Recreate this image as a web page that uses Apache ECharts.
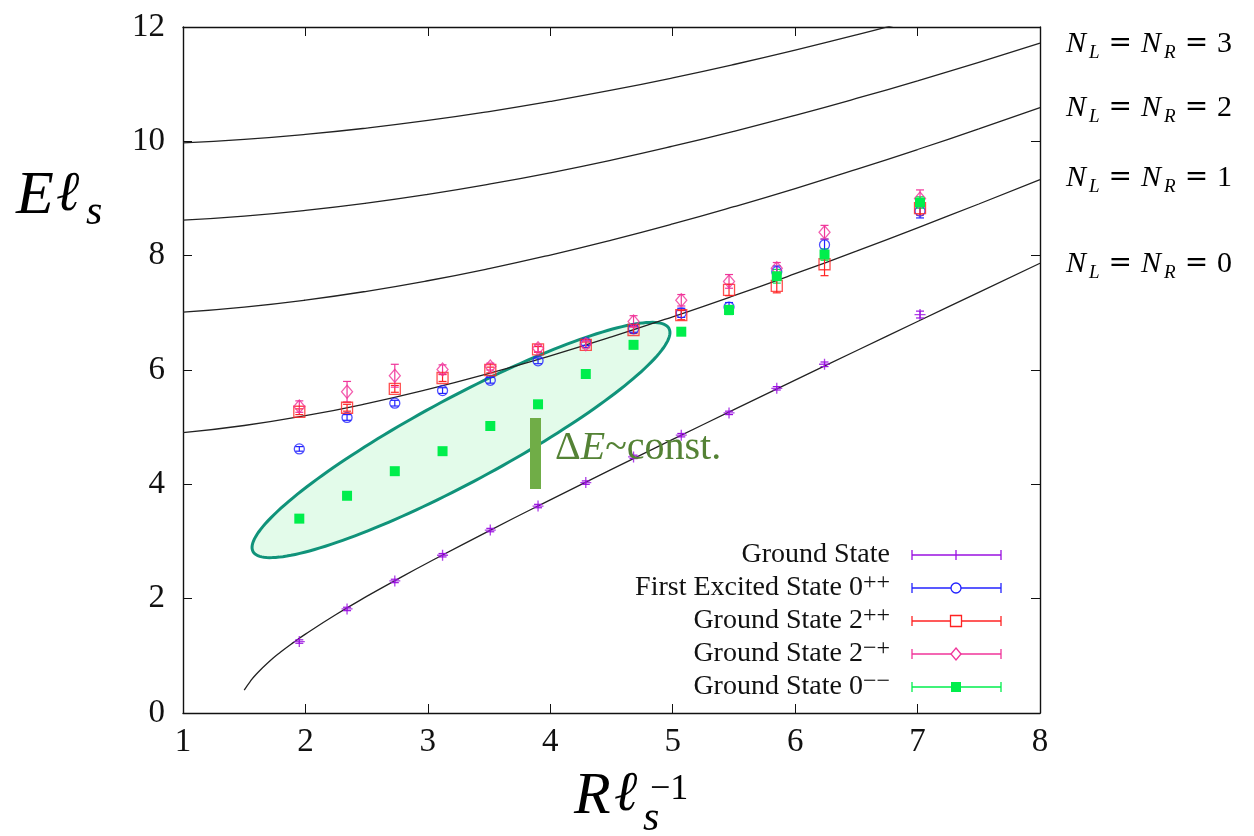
<!DOCTYPE html>
<html>
<head>
<meta charset="utf-8">
<script src="https://cdn.jsdelivr.net/npm/echarts@6/dist/echarts.min.js"></script>
<style>
html, body { margin: 0; padding: 0; background: #fff; }
#chart { width: 1254px; height: 836px; }
</style>
</head>
<body>
<div id="chart"></div>
<script>
// R / l_s values where the states were measured
const rValues = [1.95, 2.34, 2.73, 3.12, 3.51, 3.90, 4.29, 4.68, 5.07, 5.46, 5.85, 6.24, 7.02];

// measured energies (E l_s) and errors
const groundE   = [1.25, 1.82, 2.31, 2.76, 3.20, 3.62, 4.03, 4.48, 4.86, 5.25, 5.68, 6.10, 6.97];
const groundErr = [0.03, 0.03, 0.03, 0.03, 0.03, 0.03, 0.03, 0.03, 0.03, 0.03, 0.03, 0.04, 0.06];
const excE      = [4.62, 5.17, 5.42, 5.64, 5.82, 6.16, 6.48, 6.72, 7.00, 7.10, 7.72, 8.19, 8.78];
const excErr    = [0.04, 0.05, 0.05, 0.05, 0.05, 0.05, 0.05, 0.06, 0.08, 0.08, 0.10, 0.10, 0.12];
const t2ppE     = [5.27, 5.34, 5.67, 5.86, 6.00, 6.36, 6.44, 6.70, 6.96, 7.40, 7.47, 7.85, 8.83];
const t2ppErr   = [0.05, 0.06, 0.06, 0.06, 0.05, 0.05, 0.05, 0.06, 0.08, 0.10, 0.12, 0.20, 0.12];
const t2mpE     = [5.36, 5.62, 5.90, 6.01, 6.06, 6.38, 6.45, 6.85, 7.22, 7.55, 7.78, 8.41, 9.00];
const t2mpErr   = [0.10, 0.18, 0.20, 0.08, 0.06, 0.06, 0.06, 0.10, 0.10, 0.12, 0.10, 0.12, 0.15];
const t0mmE     = [3.40, 3.80, 4.23, 4.58, 5.02, 5.40, 5.93, 6.44, 6.67, 7.05, 7.64, 8.02, 8.93];
const t0mmErr   = [0.03, 0.03, 0.03, 0.03, 0.04, 0.05, 0.04, 0.05, 0.06, 0.08, 0.12, 0.10, 0.10];

// string levels
const n0X = [1.5, 1.55, 1.6, 1.7, 1.8, 1.9, 2.0, 2.25, 2.5, 2.75, 3.0, 3.5, 4.0, 4.5, 5.0, 5.5, 6.0, 6.5, 7.0, 7.5, 8.0];
const n0E = [0.40, 0.555, 0.682, 0.892, 1.070, 1.231, 1.380, 1.723, 2.039, 2.338, 2.628, 3.187, 3.729, 4.261, 4.786, 5.306, 5.823, 6.337, 6.849, 7.359, 7.868];
const curveX = [1.0, 1.5, 2.0, 2.5, 3.0, 3.5, 4.0, 4.5, 5.0, 5.5, 6.0, 6.5, 7.0, 7.5, 8.0];
const n1E = [4.903, 5.029, 5.200, 5.412, 5.660, 5.940, 6.248, 6.579, 6.931, 7.300, 7.684, 8.080, 8.488, 8.904, 9.329];
const n2E = [7.012, 7.101, 7.223, 7.377, 7.561, 7.773, 8.011, 8.272, 8.554, 8.856, 9.174, 9.509, 9.857, 10.219, 10.591];
const n3E = [8.620, 8.692, 8.792, 8.919, 9.072, 9.250, 9.450, 9.672, 9.915, 10.176, 10.455, 10.750, 11.059, 11.382, 11.718];
const n4X = [1.0, 1.5, 2.0, 2.5, 3.0, 3.5, 4.0, 4.5, 5.0, 5.5, 6.0, 6.5, 7.0];
const n4E = [9.972, 10.034, 10.121, 10.232, 10.365, 10.521, 10.698, 10.894, 11.110, 11.344, 11.595, 11.861, 12.142];

const levelLabels = ['3', '2', '1', '0'];
const legendNames = ['Ground State', 'First Excited State 0', 'Ground State 2', 'Ground State 2', 'Ground State 0'];
const legendSups  = ['', '++', '++', '\u2212+', '\u2212\u2212'];

const serif = '"Liberation Serif", "DejaVu Serif", serif';
const colors = ['#9a10e0', '#2222ff', '#ff2222', '#f0359a', '#00ee4c'];
const plusPath = 'path://M4.4,0h1.2v4.4h4.4v1.2h-4.4v4.4h-1.2v-4.4h-4.4v-1.2h4.4z';

const chart = echarts.init(document.getElementById('chart'));

function pairs(xs, ys) { return xs.map((x, i) => [x, ys[i]]); }
function bars(xs, ys, es) { return xs.map((x, i) => [x, ys[i] - es[i], ys[i] + es[i]]); }

function errorBars(data, color, z) {
    return {
        type: 'custom',
        data: data,
        encode: { x: 0, y: [1, 2] },
        z: z,
        silent: true,
        renderItem: function (params, api) {
            const lo = api.coord([api.value(0), api.value(1)]);
            const hi = api.coord([api.value(0), api.value(2)]);
            const st = { stroke: color, lineWidth: 1.2 };
            return {
                type: 'group',
                children: [
                    { type: 'line', shape: { x1: lo[0], y1: lo[1], x2: hi[0], y2: hi[1] }, style: st },
                    { type: 'line', shape: { x1: lo[0] - 4, y1: lo[1], x2: lo[0] + 4, y2: lo[1] }, style: st },
                    { type: 'line', shape: { x1: hi[0] - 4, y1: hi[1], x2: hi[0] + 4, y2: hi[1] }, style: st }
                ]
            };
        }
    };
}

function curve(xs, ys) {
    return {
        type: 'line', data: pairs(xs, ys), showSymbol: false, smooth: true,
        lineStyle: { color: '#222', width: 1.3 }, silent: true, z: 2
    };
}

const hollow = 'rgba(255,255,255,0)';
const series = [
    curve(n0X, n0E), curve(curveX, n1E), curve(curveX, n2E), curve(curveX, n3E), curve(n4X, n4E),
    errorBars(bars(rValues, t0mmE, t0mmErr), colors[4], 3),
    errorBars(bars(rValues, groundE, groundErr), colors[0], 4),
    errorBars(bars(rValues, excE, excErr), colors[1], 4),
    errorBars(bars(rValues, t2ppE, t2ppErr), colors[2], 4),
    errorBars(bars(rValues, t2mpE, t2mpErr), colors[3], 4),
    { type: 'scatter', data: pairs(rValues, groundE), symbol: plusPath, symbolSize: 11, z: 5,
      itemStyle: { color: colors[0] } },
    { type: 'scatter', data: pairs(rValues, excE), symbol: 'circle', symbolSize: 10, z: 5,
      itemStyle: { color: hollow, borderColor: colors[1], borderWidth: 1.3 } },
    { type: 'scatter', data: pairs(rValues, t2ppE), symbol: 'rect', symbolSize: 11, z: 5,
      itemStyle: { color: hollow, borderColor: colors[2], borderWidth: 1.3 } },
    { type: 'scatter', data: pairs(rValues, t2mpE), symbol: 'diamond', symbolSize: [11, 13], z: 5,
      itemStyle: { color: hollow, borderColor: colors[3], borderWidth: 1.3 } },
    { type: 'scatter', data: pairs(rValues, t0mmE), symbol: 'rect', symbolSize: 10, z: 6,
      itemStyle: { color: colors[4], borderWidth: 0, opacity: 1 } }
];

// shaded ellipse (pixel geometry of the annotation)
const ellPts = [];
(function () {
    const cx = 461, cy = 440, a = 236, b = 42.5, th = 28.2 * Math.PI / 180;
    const c = Math.cos(th), s = Math.sin(th);
    for (let k = 0; k < 180; k++) {
        const t = 2 * Math.PI * k / 180;
        const u = a * Math.cos(t), v = b * Math.sin(t);
        ellPts.push([cx + u * c + v * s, cy - u * s + v * c]);
    }
})();

function txt(x, y, text, font) {
    return { type: 'text', x: x, y: y, style: { text: text, font: font, fill: '#000', verticalAlign: 'middle' } };
}

const graphic = [
    { type: 'polygon', shape: { points: ellPts }, z: 1,
      style: { fill: '#e3fbea', stroke: '#10937a', lineWidth: 3 } },
    { type: 'rect', shape: { x: 530, y: 418, width: 11, height: 71 }, z: 7, style: { fill: '#70ad47' } },
    { type: 'text', x: 555, y: 448, z: 7, style: {
        text: '{a|\u0394}{e|E}{a|~const.}', verticalAlign: 'middle', align: 'left',
        rich: {
            a: { fontFamily: serif, fontSize: 40, fill: '#548235' },
            e: { fontFamily: serif, fontSize: 40, fontStyle: 'italic', fill: '#548235' }
        } } },
    // axis titles
    txt(16, 197, 'E', 'italic 62px ' + serif),
    txt(56, 195, '\u2113', 'italic 56px ' + serif),
    txt(86, 213, 's', 'italic 42px ' + serif),
    txt(574, 797, 'R', 'italic 60px ' + serif),
    txt(614, 795, '\u2113', 'italic 56px ' + serif),
    txt(643, 819, 's', 'italic 42px ' + serif),
    txt(650, 790, '\u22121', '36px ' + serif)
];

// N_L = N_R labels on the right
const levelY = [44, 108, 178, 264];
levelLabels.forEach(function (lab, i) {
    graphic.push({ type: 'text', x: 1066, y: levelY[i], style: {
        text: '{n|N}{sub|L}{eq|=}{n|N}{sub|R}{eq|=}{num|' + lab + '}',
        align: 'left', verticalAlign: 'middle',
        rich: {
            n: { fontFamily: serif, fontStyle: 'italic', fontSize: 30, lineHeight: 36, padding: [0, 3, 0, 0], fill: '#000' },
            sub: { fontFamily: serif, fontStyle: 'italic', fontSize: 19, verticalAlign: 'bottom', fill: '#000' },
            eq: { fontFamily: '"DejaVu Sans", sans-serif', fontSize: 28, lineHeight: 36, padding: [0, 9, 0, 9], fill: '#000' },
            num: { fontFamily: serif, fontSize: 30, lineHeight: 36, fill: '#000' }
        } } });
});

// legend drawn by hand (text right of which sits the error-bar sample)
const legendY = [555, 588, 621, 654, 687];
legendNames.forEach(function (name, i) {
    const y = legendY[i], col = colors[i];
    graphic.push({ type: 'text', x: 890, y: y, z: 8, style: {
        text: '{t|' + name + '}' + (legendSups[i] ? '{s|' + legendSups[i] + '}' : ''),
        align: 'right', verticalAlign: 'middle',
        rich: {
            t: { fontFamily: serif, fontSize: 28, lineHeight: 34, fill: '#111' },
            s: { fontFamily: serif, fontSize: 24, lineHeight: 22, verticalAlign: 'top', fill: '#111' }
        } } });
    const st = { stroke: col, lineWidth: 1.3 };
    graphic.push({ type: 'line', z: 8, shape: { x1: 912, y1: y, x2: 1001, y2: y }, style: st });
    graphic.push({ type: 'line', z: 8, shape: { x1: 912, y1: y - 5, x2: 912, y2: y + 5 }, style: st });
    graphic.push({ type: 'line', z: 8, shape: { x1: 1001, y1: y - 5, x2: 1001, y2: y + 5 }, style: st });
    let m;
    if (i === 0) m = { type: 'line', shape: { x1: 956, y1: y - 5, x2: 956, y2: y + 5 }, style: st };
    else if (i === 1) m = { type: 'circle', shape: { cx: 956, cy: y, r: 5 }, style: { fill: '#fff', stroke: col, lineWidth: 1.3 } };
    else if (i === 2) m = { type: 'rect', shape: { x: 950.5, y: y - 5.5, width: 11, height: 11 }, style: { fill: '#fff', stroke: col, lineWidth: 1.3 } };
    else if (i === 3) m = { type: 'polygon', shape: { points: [[956, y - 6], [961, y], [956, y + 6], [951, y]] }, style: { fill: '#fff', stroke: col, lineWidth: 1.3 } };
    else m = { type: 'rect', shape: { x: 951, y: y - 5, width: 10, height: 10 }, style: { fill: col } };
    m.z = 9;
    graphic.push(m);
});

const tickStyle = { show: true, inside: true, length: 9, lineStyle: { color: '#111', width: 1 } };
const lineStyle = { show: true, onZero: false, lineStyle: { color: '#111', width: 1.4 } };
const labelStyle = { fontFamily: serif, fontSize: 33, color: '#111' };

chart.setOption({
    animation: false,
    backgroundColor: '#fff',
    grid: { left: 183, right: 214, top: 27, bottom: 123, containLabel: false, outerBoundsMode: 'none' },
    xAxis: [
        { type: 'value', min: 1, max: 8, interval: 1, axisLine: lineStyle, axisTick: tickStyle,
          splitLine: { show: false }, axisLabel: Object.assign({ margin: 13 }, labelStyle) },
        { type: 'value', position: 'top', min: 1, max: 8, interval: 1, axisLine: lineStyle, axisTick: tickStyle,
          splitLine: { show: false }, axisLabel: { show: false } }
    ],
    yAxis: [
        { type: 'value', min: 0, max: 12, interval: 2, axisLine: lineStyle, axisTick: tickStyle,
          splitLine: { show: false }, axisLabel: Object.assign({ margin: 18 }, labelStyle) },
        { type: 'value', position: 'right', min: 0, max: 12, interval: 2, axisLine: lineStyle, axisTick: tickStyle,
          splitLine: { show: false }, axisLabel: { show: false } }
    ],
    series: series,
    graphic: graphic
});
</script>
</body>
</html>
